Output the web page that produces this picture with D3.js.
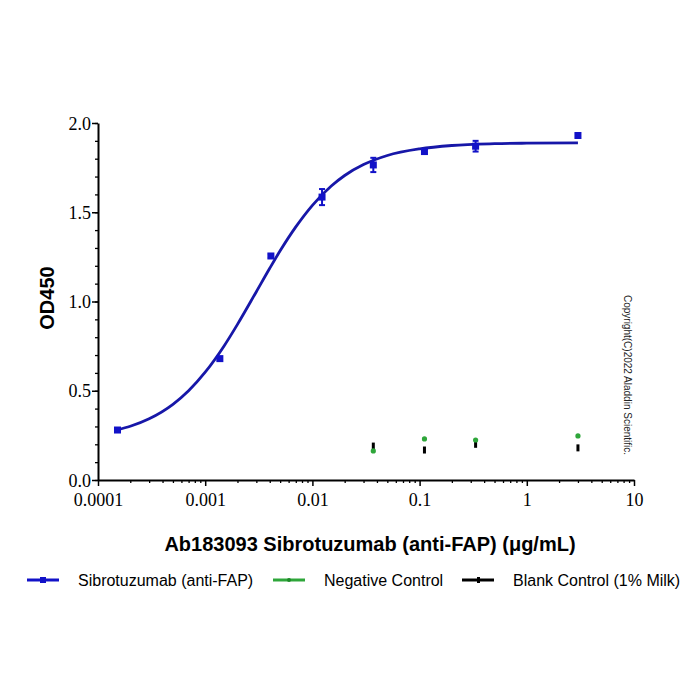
<!DOCTYPE html>
<html>
<head>
<meta charset="utf-8">
<script src="https://cdn.jsdelivr.net/npm/d3@7"></script>
<style>
  body { margin: 0; background: #fff; }
</style>
</head>
<body>
<div class="chart"></div>
<script>
// concentrations (ug/mL)
var concSib = [0.000152, 0.00137, 0.0041, 0.0123, 0.037, 0.111, 0.333, 3]
var odSib = [0.28, 0.68, 1.255, 1.585, 1.765, 1.84, 1.87, 1.93]
var errSib = [0.008, 0.008, 0.01, 0.045, 0.04, 0.012, 0.03, 0.01]

var concCtrl = [0.037, 0.111, 0.333, 3]
var odNeg = [0.163, 0.23, 0.224, 0.247]
var odBlank = [0.19, 0.168, 0.2, 0.18]

// fitted curve
var fitX = [0.000152, 0.0002, 0.0003, 0.0005, 0.0007, 0.001, 0.0015, 0.002, 0.003, 0.004, 0.005, 0.007,
  0.01, 0.015, 0.02, 0.03, 0.05, 0.1, 0.2, 0.5, 1, 3]
var fitY = [0.281, 0.301, 0.343, 0.424, 0.5, 0.604, 0.751, 0.872, 1.055, 1.186, 1.284, 1.418,
  1.539, 1.647, 1.706, 1.767, 1.818, 1.855, 1.874, 1.884, 1.887, 1.889]

var xTicks = [0.0001, 0.001, 0.01, 0.1, 1, 10]
var xTickLabels = ["0.0001", "0.001", "0.01", "0.1", "1", "10"]
var yTicks = [0, 0.5, 1.0, 1.5, 2.0]

var legendNames = ["Sibrotuzumab (anti-FAP)", "Negative Control", "Blank Control (1% Milk)"]

var blue = "#1212c8"
var curveBlue = "#1717a8"
var green = "#2ea63a"

var svg = d3.select(".chart")
    .append("svg")
    .attr("width", 700)
    .attr("height", 700)

var x = d3.scaleLog().domain([0.0001, 10]).range([98, 634])
var y = d3.scaleLinear().domain([0, 2]).range([480, 123])

// minor ticks
var xMinor = []
xTicks.slice(0, 5).forEach(function(t) {
    for (var k = 2; k <= 9; k++) xMinor.push(t * k)
})
var yMinor = d3.range(0, 21).map(function(i) { return i / 10 })

svg.append("g")
    .attr("transform", "translate(0,480)")
    .call(d3.axisBottom(x).tickValues(xMinor).tickSize(3).tickFormat(""))
    .call(function(g) { g.select(".domain").remove() })
    .selectAll("line").attr("stroke-width", 1.3)

svg.append("g")
    .attr("transform", "translate(98,0)")
    .call(d3.axisLeft(y).tickValues(yMinor).tickSize(3).tickFormat(""))
    .call(function(g) { g.select(".domain").remove() })
    .selectAll("line").attr("stroke-width", 1.3)

var xAxis = svg.append("g")
    .attr("transform", "translate(0,480)")
    .call(d3.axisBottom(x).tickValues(xTicks).tickSizeInner(6).tickSizeOuter(0)
        .tickFormat(function(d, i) { return xTickLabels[i] }))
xAxis.select(".domain").attr("stroke-width", 2)
xAxis.selectAll(".tick line").attr("stroke-width", 1.5)
xAxis.selectAll("text")
    .attr("dy", 0)
    .attr("y", 26)
    .style("font-family", "'Liberation Serif', 'Times New Roman', serif")
    .style("font-size", "18px")
    .attr("fill", "#000")

var yAxis = svg.append("g")
    .attr("transform", "translate(98,0)")
    .call(d3.axisLeft(y).tickValues(yTicks).tickSizeInner(6).tickSizeOuter(0)
        .tickFormat(d3.format(".1f")))
yAxis.select(".domain").attr("stroke-width", 2)
yAxis.selectAll(".tick line").attr("stroke-width", 1.5)
yAxis.selectAll("text")
    .attr("x", -7)
    .attr("dy", "0.34em")
    .style("font-family", "'Liberation Serif', 'Times New Roman', serif")
    .style("font-size", "18px")
    .attr("fill", "#000")

// axis titles
svg.append("text")
    .attr("x", 370)
    .attr("y", 551)
    .attr("text-anchor", "middle")
    .text("Ab183093 Sibrotuzumab (anti-FAP) (μg/mL)")
    .style("font-size", "20px")
    .style("font-weight", "bold")
    .attr("font-family", "'Liberation Sans', Arial, sans-serif")

svg.append("text")
    .attr("transform", "translate(54,298) rotate(-90)")
    .attr("text-anchor", "middle")
    .text("OD450")
    .style("font-size", "20px")
    .style("font-weight", "bold")
    .attr("font-family", "'Liberation Sans', Arial, sans-serif")

// copyright
svg.append("text")
    .attr("transform", "translate(624,375) rotate(90)")
    .attr("text-anchor", "middle")
    .text("Copyright(C)2022 Aladdin Scientific.")
    .style("font-size", "10px")
    .attr("font-family", "'Liberation Sans', Arial, sans-serif")
    .attr("fill", "#222")

// fitted curve
var line = d3.line()
    .x(function(d, i) { return x(fitX[i]) })
    .y(function(d) { return y(d) })
    .curve(d3.curveMonotoneX)

svg.append("path")
    .datum(fitY)
    .attr("d", line)
    .attr("fill", "none")
    .attr("stroke", curveBlue)
    .attr("stroke-width", 2.8)

// error bars
concSib.forEach(function(c, i) {
    var cx = x(c), lo = y(odSib[i] - errSib[i]), hi = y(odSib[i] + errSib[i])
    svg.append("line")
        .attr("x1", cx).attr("x2", cx).attr("y1", lo).attr("y2", hi)
        .attr("stroke", blue).attr("stroke-width", 2)
    ;[lo, hi].forEach(function(yy) {
        svg.append("line")
            .attr("x1", cx - 3).attr("x2", cx + 3).attr("y1", yy).attr("y2", yy)
            .attr("stroke", blue).attr("stroke-width", 2)
    })
})

svg.selectAll(".sib")
    .data(odSib)
    .enter().append("rect")
    .attr("x", function(d, i) { return x(concSib[i]) - 3.5 })
    .attr("y", function(d) { return y(d) - 3.5 })
    .attr("width", 7)
    .attr("height", 7)
    .attr("fill", blue)

svg.selectAll(".blank")
    .data(odBlank)
    .enter().append("rect")
    .attr("x", function(d, i) { return x(concCtrl[i]) - 1.5 })
    .attr("y", function(d) { return y(d) - 3.5 })
    .attr("width", 3)
    .attr("height", 7)
    .attr("fill", "#000")

svg.selectAll(".neg")
    .data(odNeg)
    .enter().append("circle")
    .attr("cx", function(d, i) { return x(concCtrl[i]) })
    .attr("cy", function(d) { return y(d) })
    .attr("r", 2.6)
    .attr("fill", green)

// legend
var legX = [27, 273, 462]
var legColors = [blue, green, "#000"]
legendNames.forEach(function(name, i) {
    var lx = legX[i]
    svg.append("line")
        .attr("x1", lx).attr("x2", lx + 32).attr("y1", 580).attr("y2", 580)
        .attr("stroke", legColors[i]).attr("stroke-width", 3)
    if (i == 0) {
        svg.append("rect").attr("x", lx + 13).attr("y", 577).attr("width", 6).attr("height", 6).attr("fill", blue)
    } else if (i == 1) {
        svg.append("circle").attr("cx", lx + 16).attr("cy", 580).attr("r", 2).attr("fill", "#1e8a28")
    } else {
        svg.append("rect").attr("x", lx + 15).attr("y", 577).attr("width", 3).attr("height", 6).attr("fill", "#000")
    }
    svg.append("text")
        .attr("x", lx + 51)
        .attr("y", 586)
        .text(name)
        .style("font-size", "16px")
        .attr("font-family", "'Liberation Sans', Arial, sans-serif")
        .attr("fill", "#000")
})
</script>
</body>
</html>
